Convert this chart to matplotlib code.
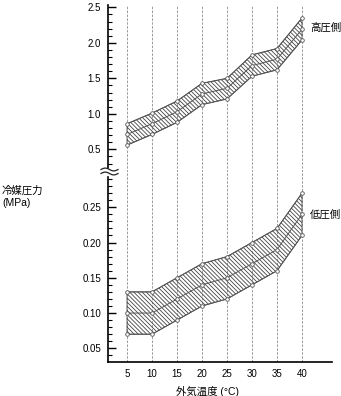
import numpy as np
import matplotlib.pyplot as plt
from matplotlib.ticker import MultipleLocator, FixedLocator, FormatStrFormatter

plt.rcParams['font.family'] = ['Liberation Sans', 'Noto Sans CJK JP']
plt.rcParams['hatch.linewidth'] = 0.6

# outside temperature (°C)
temps = [5, 10, 15, 20, 25, 30, 35, 40]

# high pressure side (MPa)
high_top = [0.86, 1.01, 1.18, 1.43, 1.50, 1.83, 1.92, 2.35]
high_mid = [0.71, 0.86, 1.03, 1.28, 1.36, 1.68, 1.77, 2.19]
high_bot = [0.56, 0.71, 0.88, 1.13, 1.21, 1.53, 1.62, 2.04]

# low pressure side (MPa)
low_top = [0.13, 0.13, 0.15, 0.17, 0.18, 0.20, 0.22, 0.27]
low_mid = [0.10, 0.10, 0.12, 0.14, 0.15, 0.17, 0.19, 0.24]
low_bot = [0.07, 0.07, 0.09, 0.11, 0.12, 0.14, 0.16, 0.21]

W, H = 341, 396
fig = plt.figure(figsize=(W / 100, H / 100), dpi=100)


def box(l, t, r, b):
    # pixel box -> figure fraction
    return [l / W, 1 - b / H, (r - l) / W, (b - t) / H]


ax_hi = fig.add_axes(box(108, 5, 332, 172))
ax_lo = fig.add_axes(box(108, 172, 332, 362), sharex=ax_hi)

line_kw = dict(color='#555555', lw=0.7, marker='o', ms=2.6, mfc='white',
               mec='#555555', mew=0.6, zorder=3)

for ax, top, mid, bot in [(ax_hi, high_top, high_mid, high_bot),
                          (ax_lo, low_top, low_mid, low_bot)]:
    for t in temps:
        ax.axvline(t, color='#999999', lw=0.7, ls=(0, (2.5, 1.5)), zorder=0)
    ax.fill_between(temps, bot, top, facecolor='none', edgecolor='#444444',
                    hatch='\\' * 8, linewidth=0.6, zorder=2)
    for s in (top, mid, bot):
        ax.plot(temps, s, **line_kw)
    ax.spines['top'].set_visible(False)
    ax.spines['right'].set_visible(False)
    ax.spines['left'].set_linewidth(1.2)
    ax.tick_params(axis='y', which='major', direction='in', length=6, width=1.0,
                   labelsize=7, pad=5)
    ax.tick_params(axis='y', which='minor', direction='in', length=3, width=0.8)

ax_hi.set_xlim(1.2, 46)
ax_hi.set_ylim(0.181, 2.533)
ax_hi.yaxis.set_major_locator(FixedLocator([0.5, 1.0, 1.5, 2.0, 2.5]))
ax_hi.yaxis.set_minor_locator(MultipleLocator(0.1))
ax_hi.yaxis.set_major_formatter(FormatStrFormatter('%.1f'))
ax_hi.spines['bottom'].set_visible(False)
ax_hi.tick_params(axis='x', which='both', bottom=False, labelbottom=False)

ax_lo.set_ylim(0.0306, 0.30)
ax_lo.yaxis.set_major_locator(FixedLocator([0.05, 0.10, 0.15, 0.20, 0.25]))
ax_lo.yaxis.set_minor_locator(MultipleLocator(0.01))
ax_lo.yaxis.set_major_formatter(FormatStrFormatter('%.2f'))
ax_lo.spines['bottom'].set_linewidth(1.2)
ax_lo.set_xticks(temps)
ax_lo.tick_params(axis='x', length=0, labelsize=7, pad=5)

# axis break mark
fx = lambda px: px / W
fy = lambda py: 1 - py / H
fig.patches.append(plt.Rectangle((fx(104), fy(175.5)), 9 / W, 7 / H, color='white',
                                 transform=fig.transFigure, zorder=5))
wx = np.linspace(101, 118, 40)
for y0 in (169.5, 173.5):
    wy = y0 - 1.4 * np.sin((wx - 101) / 17 * 2 * np.pi)
    fig.add_artist(plt.Line2D(fx(wx), fy(wy), color='#222222', lw=0.9,
                              transform=fig.transFigure, zorder=6))

fig.text(fx(310), fy(28), '高圧側', fontsize=7.5, va='center', ha='left')
fig.text(fx(310), fy(215), '低圧側', fontsize=7.5, va='center', ha='left')
fig.text(fx(2), fy(186), '冷媒圧力\n(MPa)', fontsize=7.5, va='top', ha='left',
         linespacing=1.2)
fig.text(fx(207), fy(391), '外気温度 (°C)', fontsize=7.5, va='center', ha='center')

fig.savefig('out.png', dpi=100)
